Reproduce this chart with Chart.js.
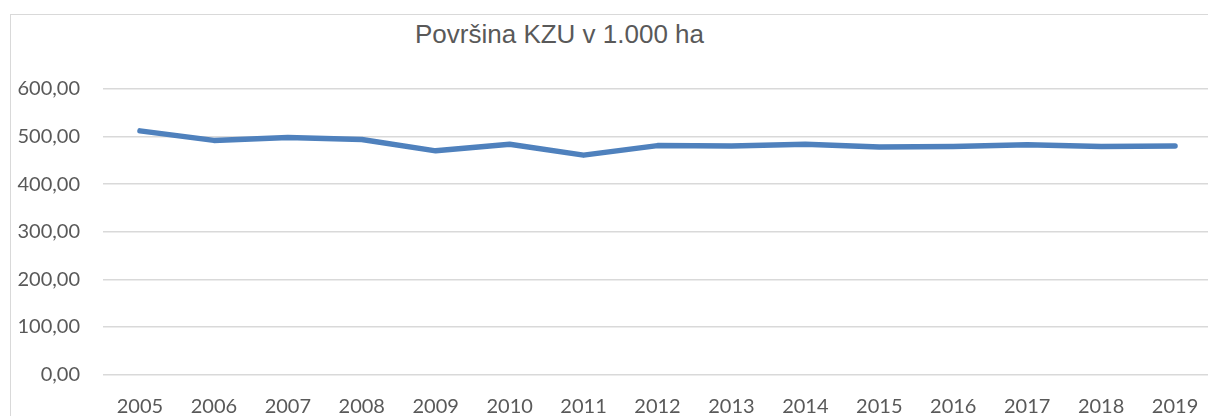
<!DOCTYPE html>
<html>
<head>
<meta charset="utf-8">
<script src="https://cdn.jsdelivr.net/npm/chart.js@4/dist/chart.umd.min.js"></script>
<style>
    html, body { margin: 0; padding: 0; background: #fff; overflow: hidden; width: 1208px; height: 416px; }
    #frame { position: absolute; left: 10px; top: 14px; width: 1300px; height: 500px; border: 1px solid #d9d9d9; }
    #title { position: absolute; left: 415px; top: 21px; font: 26px/26px "Liberation Sans", Arial, sans-serif; color: #595959; white-space: nowrap; }
    #wrap { position: absolute; left: 0; top: 0; width: 1230px; height: 416px; }
</style>
</head>
<body>
<div id="frame"></div>
<div id="title">Površina KZU v 1.000 ha</div>
<div id="wrap"><canvas id="kzuChart"></canvas></div>
<script>
const years = ["2005", "2006", "2007", "2008", "2009", "2010", "2011", "2012", "2013", "2014", "2015", "2016", "2017", "2018", "2019"];
const area = [512, 492, 498, 494, 470, 484, 461, 481, 480, 484, 478, 479, 483, 479, 480];

const yMax = 600;
const yStep = 100;

const txt = "#595959";

new Chart(document.getElementById("kzuChart"), {
    type: "line",
    data: {
        labels: years,
        datasets: [{
            label: "Površina KZU v 1.000 ha",
            data: area,
            borderColor: "#4f81bd",
            borderWidth: 5.5,
            borderCapStyle: "round",
            borderJoinStyle: "round",
            pointRadius: 0,
            tension: 0,
            fill: false
        }]
    },
    options: {
        responsive: true,
        maintainAspectRatio: false,
        animation: false,
        layout: { padding: { top: 89, right: 18, bottom: 0, left: 0 } },
        plugins: {
            legend: { display: false },
            tooltip: { enabled: false }
        },
        scales: {
            x: {
                offset: true,
                grid: { display: false, drawTicks: false },
                border: { display: false },
                ticks: {
                    color: txt,
                    font: { family: "Lato", size: 20 },
                    padding: 20,
                    maxRotation: 0,
                    autoSkip: false
                },
                afterFit: s => { s.height = 41.5; }
            },
            y: {
                min: 0,
                max: yMax,
                grid: { color: "#d9d9d9", lineWidth: 1.5, drawTicks: false },
                border: { display: false },
                ticks: {
                    stepSize: yStep,
                    color: txt,
                    font: { family: "Lato", size: 20 },
                    padding: 23,
                    callback: v => v.toFixed(2).replace(".", ",")
                },
                afterFit: s => { s.width = 103; }
            }
        }
    }
});
</script>
</body>
</html>
